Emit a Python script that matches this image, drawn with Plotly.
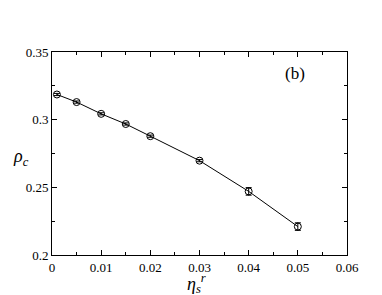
import plotly.graph_objects as go

eta = [0.001, 0.005, 0.01, 0.015, 0.02, 0.03, 0.04, 0.05]
rho = [0.3186, 0.313, 0.3043, 0.2968, 0.2878, 0.2697, 0.2470, 0.2210]
err = [0.0008, 0.0008, 0.0008, 0.0008, 0.0008, 0.0008, 0.0028, 0.0028]

x_ticks = [0, 0.01, 0.02, 0.03, 0.04, 0.05, 0.06]
x_labels = ["0", "0.01", "0.02", "0.03", "0.04", "0.05", "0.06"]
y_ticks = [0.2, 0.25, 0.3, 0.35]
y_labels = ["0.2", "0.25", "0.3", "0.35"]

font = "Liberation Serif"

fig = go.Figure()
fig.add_trace(go.Scatter(
    x=eta, y=rho, mode="lines+markers",
    line=dict(color="black", width=1),
    marker=dict(symbol="circle-open", size=7, color="black", line=dict(width=1, color="black")),
    error_y=dict(type="data", array=err, color="black", thickness=1, width=3),
    showlegend=False,
))

axis_common = dict(
    showline=True, linecolor="black", linewidth=1, mirror="allticks",
    ticks="inside", ticklen=5, tickcolor="black", tickwidth=1,
    showgrid=False, zeroline=False,
    tickfont=dict(family=font, size=13, color="black"),
)
fig.update_xaxes(range=[0, 0.06], tickvals=x_ticks, ticktext=x_labels,
                 minor=dict(ticks="inside", ticklen=3, tickcolor="black", dtick=0.005, tick0=0, showgrid=False),
                 **axis_common)
fig.update_yaxes(range=[0.2, 0.35], tickvals=y_ticks, ticktext=y_labels,
                 minor=dict(ticks="inside", ticklen=3, tickcolor="black", dtick=0.025, tick0=0.2, showgrid=False),
                 **axis_common)

fig.add_annotation(x=0.0495, y=0.334, xref="x", yref="y", text="(b)", showarrow=False,
                   font=dict(family=font, size=17, color="black"))
fig.add_annotation(x=-0.07, y=0.48, xref="paper", yref="paper", xanchor="right", yanchor="middle",
                   text="<i>ρ<sub>c</sub></i>", showarrow=False,
                   font=dict(family=font, size=18, color="black"))
fig.add_annotation(x=0.49, y=-0.138, xref="paper", yref="paper", yanchor="middle",
                   text="<i>η<sub>s</sub></i><sup><i>r</i></sup>", showarrow=False,
                   font=dict(family=font, size=18, color="black"))

fig.update_layout(
    width=382, height=295,
    margin=dict(l=44, r=43, t=44, b=48),
    paper_bgcolor="white", plot_bgcolor="white",
)
fig.write_html("out.html")
